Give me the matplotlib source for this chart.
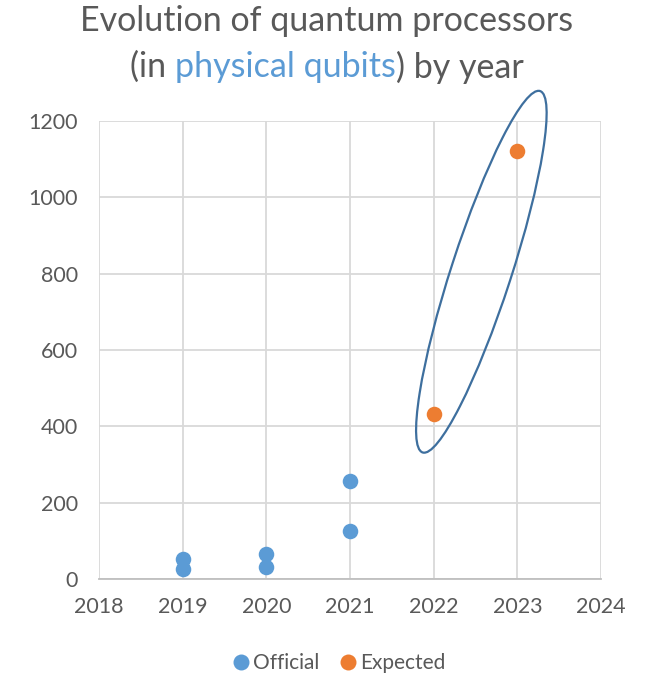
import matplotlib
matplotlib.use("Agg")
import matplotlib.pyplot as plt
from matplotlib.patches import Ellipse
from matplotlib.lines import Line2D
from matplotlib.transforms import ScaledTranslation

plt.rcParams['font.family'] = ['Lato', 'DejaVu Sans']

# data
official_years = [2019, 2019, 2020, 2020, 2021, 2021]
official_qubits = [53, 27, 65, 32, 127, 256]
expected_years = [2022, 2023]
expected_qubits = [433, 1121]

blue = "#5B9BD5"
orange = "#ED7D31"
grey_text = "#595959"

fig = plt.figure(figsize=(6.53, 6.76), dpi=100)
ax = fig.add_axes([99/653, 1 - 579/676, (601 - 99)/653, (579 - 121)/676])

ax.scatter(official_years, official_qubits, s=125, color=blue, zorder=3, linewidths=0)
ax.scatter(expected_years, expected_qubits, s=125, color=orange, zorder=3, linewidths=0)

ax.set_xlim(2018, 2024)
ax.set_ylim(0, 1200)
ax.set_xticks(range(2018, 2025))
ax.set_yticks(range(0, 1201, 200))
ax.grid(True, color="#D9D9D9", linewidth=1.3)
ax.set_axisbelow(True)
for s in ["top", "right", "left"]:
    ax.spines[s].set_visible(False)
ax.spines["bottom"].set_color("#BFBFBF")
ax.spines["bottom"].set_linewidth(1.3)
ax.tick_params(length=0, labelsize=15.5, labelcolor=grey_text)
ax.tick_params(axis="x", pad=13)
ax.tick_params(axis="y", pad=15)

# ellipse around the expected points (size in inches, centred in data coords)
tr = fig.dpi_scale_trans + ScaledTranslation(2022.57, 805, ax.transData)
ell = Ellipse((0, 0), width=3.8, height=0.6, angle=72, transform=tr,
              fill=False, edgecolor="#3E6F9E", linewidth=1.6, zorder=4, clip_on=False)
ax.add_patch(ell)

# title, second line with a blue part
title_size = 24.5
fig.text(0.5, 1 - 21/676, "Evolution of quantum processors", ha="center", va="center",
         fontsize=title_size, color=grey_text)
parts = [("(in ", grey_text), ("physical qubits", blue), (") by year", grey_text)]
renderer = fig.canvas.get_renderer()
texts = []
for txt, col in parts:
    t = fig.text(0, 1 - 67/676, txt, ha="left", va="center", fontsize=title_size, color=col)
    texts.append(t)
widths = [t.get_window_extent(renderer).width for t in texts]
total = sum(widths)
x0 = (653 - total) / 2
for t, w in zip(texts, widths):
    t.set_x(x0 / 653)
    x0 += w

handles = [Line2D([], [], linestyle="none", marker="o", markersize=11.5, color=blue, markeredgewidth=0),
           Line2D([], [], linestyle="none", marker="o", markersize=11.5, color=orange, markeredgewidth=0)]
fig.legend(handles, ["Official", "Expected"], loc="center", bbox_to_anchor=(339/653, 1 - 663/676),
           ncol=2, frameon=False, fontsize=15, labelcolor=grey_text,
           handlelength=0.75, handletextpad=0.2, columnspacing=1.0, borderpad=0)

fig.savefig("out.png", dpi=100)
